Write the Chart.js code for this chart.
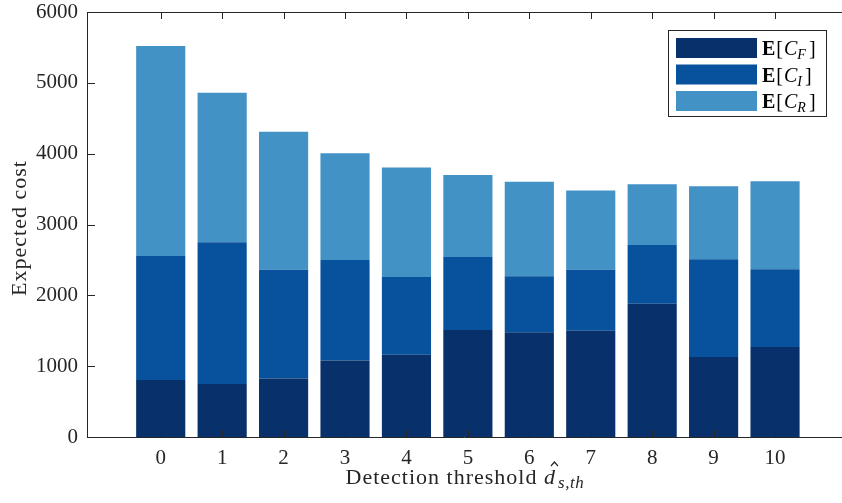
<!DOCTYPE html>
<html>
<head>
<meta charset="utf-8">
<script src="https://cdn.jsdelivr.net/npm/chart.js@4/dist/chart.umd.min.js"></script>
<style>
  html, body { margin: 0; padding: 0; background: #fff; }
</style>
</head>
<body>
<canvas id="grafico" width="842" height="503"></canvas>
<script>
const thresholds = [0, 1, 2, 3, 4, 5, 6, 7, 8, 9, 10];
const custoF = [805, 750, 825, 1080, 1160, 1510, 1480, 1500, 1880, 1130, 1270];
const custoI = [1750, 2000, 1535, 1420, 1100, 1030, 790, 860, 830, 1380, 1100];
const custoR = [2965, 2110, 1950, 1505, 1545, 1160, 1335, 1120, 860, 1030, 1240];
const yTicks = [0, 1000, 2000, 3000, 4000, 5000, 6000];
const xTicks = [0, 1, 2, 3, 4, 5, 6, 7, 8, 9, 10];

const cores = ["#08306b", "#08519c", "#4292c6"];
const subscritos = ["F", "I", "R"];
const corEixo = "#262626";
const serif = "'Liberation Serif', 'DejaVu Serif', serif";

function pontos(valores) {
    return thresholds.map((t, i) => ({ x: t, y: valores[i] }));
}

// moldura, ticks para dentro, titulos e legenda
const extras = {
    id: "extras",
    afterDraw(chart) {
        const ctx = chart.ctx;
        const area = chart.chartArea;
        const sx = chart.scales.x;
        const sy = chart.scales.y;
        const W = chart.width;
        ctx.save();
        ctx.strokeStyle = corEixo;
        ctx.lineWidth = 1;
        ctx.beginPath();
        ctx.moveTo(area.left + 0.5, area.top + 0.5);
        ctx.lineTo(area.left + 0.5, area.bottom + 0.5);
        ctx.moveTo(area.left, area.top + 0.5);
        ctx.lineTo(W, area.top + 0.5);
        ctx.moveTo(area.left, area.bottom + 0.5);
        ctx.lineTo(W, area.bottom + 0.5);
        yTicks.forEach(v => {
            const y = Math.round(sy.getPixelForValue(v)) + 0.5;
            ctx.moveTo(area.left, y);
            ctx.lineTo(area.left + 8, y);
        });
        xTicks.forEach(v => {
            const x = Math.round(sx.getPixelForValue(v)) + 0.5;
            ctx.moveTo(x, area.bottom);
            ctx.lineTo(x, area.bottom - 7);
            ctx.moveTo(x, area.top);
            ctx.lineTo(x, area.top + 7);
        });
        ctx.stroke();

        // titulo eixo y
        ctx.fillStyle = corEixo;
        ctx.font = "22px " + serif;
        ctx.letterSpacing = "1px";
        ctx.textAlign = "center";
        ctx.textBaseline = "middle";
        ctx.save();
        ctx.translate(20, 228);
        ctx.rotate(-Math.PI / 2);
        ctx.fillText("Expected cost", 0, 0);
        ctx.restore();

        // titulo eixo x
        ctx.textAlign = "left";
        ctx.textBaseline = "alphabetic";
        const base = 484;
        const t1 = "Detection threshold ";
        ctx.font = "22px " + serif;
        const w1 = ctx.measureText(t1).width;
        ctx.font = "italic 22px " + serif;
        const wd = ctx.measureText("d").width;
        ctx.letterSpacing = "0.6px";
        ctx.font = "italic 17px " + serif;
        const ws = ctx.measureText("s,th").width;
        let x0 = 465 - (w1 + wd + ws + 2) / 2;
        ctx.letterSpacing = "1px";
        ctx.font = "22px " + serif;
        ctx.fillText(t1, x0, base);
        x0 += w1;
        ctx.font = "italic 22px " + serif;
        ctx.fillText("d", x0, base);
        ctx.beginPath();
        ctx.lineWidth = 1.2;
        ctx.moveTo(x0 + wd / 2 + 1, base - 18);
        ctx.lineTo(x0 + wd / 2 + 4.5, base - 22);
        ctx.lineTo(x0 + wd / 2 + 8, base - 18);
        ctx.stroke();
        ctx.lineWidth = 1;
        x0 += wd + 2;
        ctx.letterSpacing = "0.6px";
        ctx.font = "italic 17px " + serif;
        ctx.fillText("s,th", x0, base + 4);
        ctx.letterSpacing = "0px";

        // legenda
        const lx = 668.5, ly = 30.5, lw = 158, lh = 86;
        ctx.fillStyle = "#fff";
        ctx.fillRect(lx, ly, lw, lh);
        ctx.strokeStyle = corEixo;
        ctx.strokeRect(lx, ly, lw, lh);
        chart.data.datasets.forEach((ds, i) => {
            const top = 38 + i * 26.5;
            ctx.fillStyle = ds.backgroundColor;
            ctx.fillRect(676, top, 81, 20);
            const b = top + 17;
            let tx = 762;
            ctx.fillStyle = "#000";
            ctx.font = "bold 20px " + serif;
            ctx.fillText("E", tx, b);
            tx += ctx.measureText("E").width + 1;
            ctx.font = "20px " + serif;
            ctx.fillText("[", tx, b);
            tx += ctx.measureText("[").width + 1;
            ctx.font = "italic 20px " + serif;
            ctx.fillText("C", tx, b);
            tx += ctx.measureText("C").width;
            ctx.font = "italic 14px " + serif;
            ctx.fillText(subscritos[i], tx, b + 4);
            tx += ctx.measureText(subscritos[i]).width + 3;
            ctx.font = "20px " + serif;
            ctx.fillText("]", tx, b);
        });
        ctx.restore();
    }
};

function criarGrafico() {
    const canvas = document.getElementById("grafico");

    new Chart(canvas, {
        type: "bar",
        data: {
            datasets: [
                { label: "E[C_F]", data: pontos(custoF), backgroundColor: cores[0] },
                { label: "E[C_I]", data: pontos(custoI), backgroundColor: cores[1] },
                { label: "E[C_R]", data: pontos(custoR), backgroundColor: cores[2] }
            ]
        },
        options: {
            responsive: false,
            animation: false,
            layout: { padding: { top: 12, right: 0, left: 0, bottom: 0 } },
            datasets: {
                bar: { barPercentage: 0.8, categoryPercentage: 1, borderWidth: 0 }
            },
            plugins: {
                legend: { display: false },
                tooltip: { enabled: false }
            },
            scales: {
                x: {
                    type: "linear",
                    stacked: true,
                    offset: false,
                    min: -1.2,
                    max: 11.09,
                    grid: { display: false, drawTicks: false, offset: false },
                    border: { display: false },
                    afterBuildTicks: s => { s.ticks = xTicks.map(v => ({ value: v })); },
                    afterFit: s => { s.height = 66; s.paddingLeft = 0; s.paddingRight = 0; },
                    ticks: {
                        autoSkip: false,
                        maxRotation: 0,
                        padding: 9,
                        color: corEixo,
                        font: { family: serif, size: 21 },
                        callback: v => String(v)
                    }
                },
                y: {
                    stacked: true,
                    min: 0,
                    max: 6000,
                    grid: { display: false, drawTicks: false },
                    border: { display: false },
                    afterBuildTicks: s => { s.ticks = yTicks.map(v => ({ value: v })); },
                    afterFit: s => { s.width = 87; s.paddingTop = 0; s.paddingBottom = 0; },
                    ticks: {
                        padding: 9,
                        color: corEixo,
                        font: { family: serif, size: 21 },
                        callback: v => String(v)
                    }
                }
            }
        },
        plugins: [extras]
    });
}

window.onload = criarGrafico;
</script>
</body>
</html>
